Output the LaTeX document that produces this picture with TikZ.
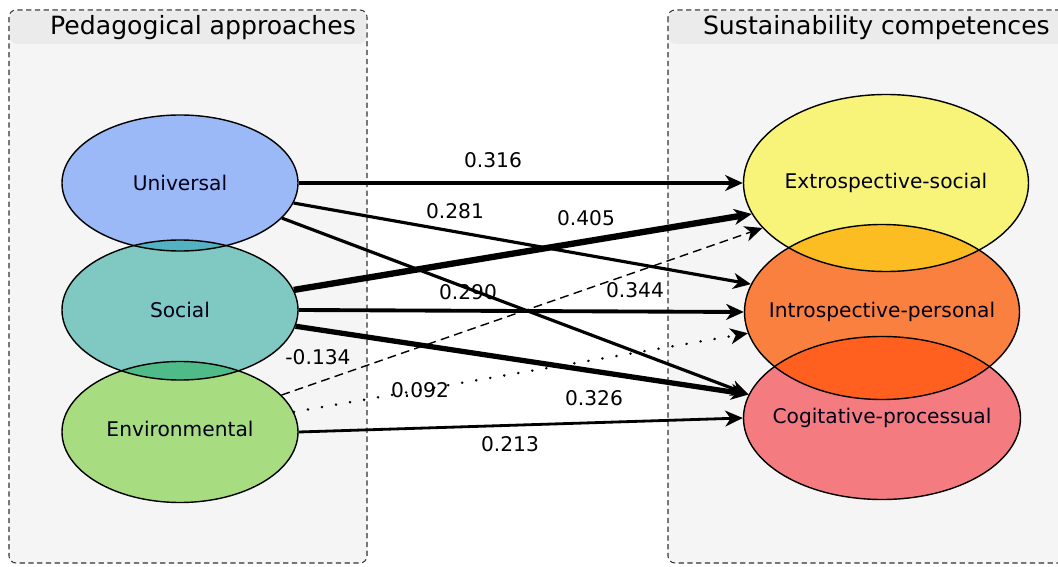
\documentclass[tikz,border=0pt]{standalone}
\usepackage{fontspec}
\setmainfont{DejaVu Sans}
\usetikzlibrary{arrows.meta,shapes.geometric}
\definecolor{uniblue}{HTML}{9BB9F7}
\definecolor{socteal}{HTML}{7FC9C2}
\definecolor{envgreen}{HTML}{A8DC80}
\definecolor{extyellow}{HTML}{F8F47A}
\definecolor{intorange}{HTML}{FA8040}
\definecolor{cogpink}{HTML}{F47C80}
\definecolor{ovlA}{HTML}{52B2C2}
\definecolor{ovlB}{HTML}{4FBB88}
\definecolor{ovlC}{HTML}{FBBD22}
\definecolor{ovlD}{HTML}{FF6020}
\tikzset{groupbox/.style={draw=black!80,dashed,dash pattern=on 3pt off 2pt,rounded corners=4pt,fill=black!4,line width=0.6pt},
  grouphead/.style={fill=black!8},
  factor/.style={ellipse,inner sep=0pt,outer sep=0.4pt},
  factortext/.style={font=\fontsize{11.5}{13}\selectfont,text=black!90!blue},
  coef/.style={font=\fontsize{11.5}{13}\selectfont},
  path/.style={-{Stealth[length=10pt,width=9pt,inset=3pt]}},
  title/.style={font=\fontsize{14.3}{16}\selectfont,anchor=east}}

\begin{document}
\begin{tikzpicture}[x=0.02cm,y=-0.02cm]
\useasboundingbox (0,0) rectangle (1058,567);
\fill[white] (0,0) rectangle (1058,567);
\begin{scope}
\clip (0,0) rectangle (1058,567);
\draw[groupbox] (9,10) rectangle (367,563);
\fill[grouphead,rounded corners=4pt] (10,11) rectangle (366,44);
\draw[groupbox] (668,10) rectangle (1066,563);
\fill[grouphead,rounded corners=4pt] (669,11) rectangle (1066,44);
\end{scope}
\node[title] (peda) at (362,28) {Pedagogical approaches};
\node[title] (sust) at (1056,28) {Sustainability competences};

\node[factor,fill=uniblue,minimum width=4.72cm,minimum height=2.72cm] (uni) at (180,183) {};
\node[factor,fill=socteal,minimum width=4.72cm,minimum height=2.8cm] (soc) at (180,310) {};
\node[factor,fill=envgreen,minimum width=4.72cm,minimum height=2.82cm] (env) at (180,432) {};
\node[factor,fill=extyellow,minimum width=5.7cm,minimum height=3.54cm] (ext) at (886,183) {};
\node[factor,fill=intorange,minimum width=5.5cm,minimum height=3.5cm] (int) at (882,312) {};
\node[factor,fill=cogpink,minimum width=5.54cm,minimum height=3.26cm] (cog) at (882,418) {};

\begin{scope}
\clip (uni.center) ellipse [x radius=118,y radius=68];
\fill[ovlA] (soc.center) ellipse [x radius=118,y radius=70];
\end{scope}
\begin{scope}
\clip (soc.center) ellipse [x radius=118,y radius=70];
\fill[ovlB] (env.center) ellipse [x radius=118,y radius=70.5];
\end{scope}
\begin{scope}
\clip (ext.center) ellipse [x radius=142.5,y radius=88.5];
\fill[ovlC] (int.center) ellipse [x radius=137.5,y radius=87.5];
\end{scope}
\begin{scope}
\clip (int.center) ellipse [x radius=137.5,y radius=87.5];
\fill[ovlD] (cog.center) ellipse [x radius=138.5,y radius=81.5];
\end{scope}
\begin{scope}[line width=0.8pt]
\draw (uni.center) ellipse [x radius=118,y radius=68];
\draw (soc.center) ellipse [x radius=118,y radius=70];
\draw (env.center) ellipse [x radius=118,y radius=70.5];
\draw (ext.center) ellipse [x radius=142.5,y radius=88.5];
\draw (int.center) ellipse [x radius=137.5,y radius=87.5];
\draw (cog.center) ellipse [x radius=138.5,y radius=81.5];
\end{scope}
\node[factortext] (unitext) at (uni.center) {Universal};
\node[factortext] (soctext) at (soc.center) {Social};
\node[factortext] (envtext) at ([yshift=1.5pt]env.center) {Environmental};
\node[factortext] (exttext) at (ext.center) {Extrospective-social};
\node[factortext] (inttext) at (int.center) {Introspective-personal};
\node[factortext] (cogtext) at (cog.center) {Cogitative-processual};

\draw[path,line width=2.4pt] (uni.east) -- (ext.west);
\draw[path,line width=1.8pt] (uni.-10) -- (int.168);
\draw[path,line width=1.8pt] (uni.-19) -- (cog.170);
\draw[path,line width=3.6pt] (soc.10) -- (ext.193);
\draw[path,line width=2.2pt] (soc.east) -- (int.west);
\draw[path,line width=3pt] (soc.-8) -- (cog.170);
\draw[path,line width=0.8pt,dashed,dash pattern=on 5pt off 3pt] (env.20) -- (ext.200);
\draw[path,line width=1.5pt,dash pattern=on 0.1pt off 8pt,line cap=round] (env.10) -- (int.189);
\draw[path,line width=1.6pt] (env.east) -- (cog.west);

\node[coef] (c1) at (493,160) {0.316};
\node[coef] (c2) at (455,211) {0.281};
\node[coef] (c3) at (468,292) {0.290};
\node[coef] (c4) at (586,218) {0.405};
\node[coef] (c5) at (635,290) {0.344};
\node[coef] (c6) at (594,398) {0.326};
\node[coef] (c7) at (318,357) {-0.134};
\node[coef] (c8) at (420,390) {0.092};
\node[coef] (c9) at (510,444) {0.213};
\end{tikzpicture}
\end{document}
